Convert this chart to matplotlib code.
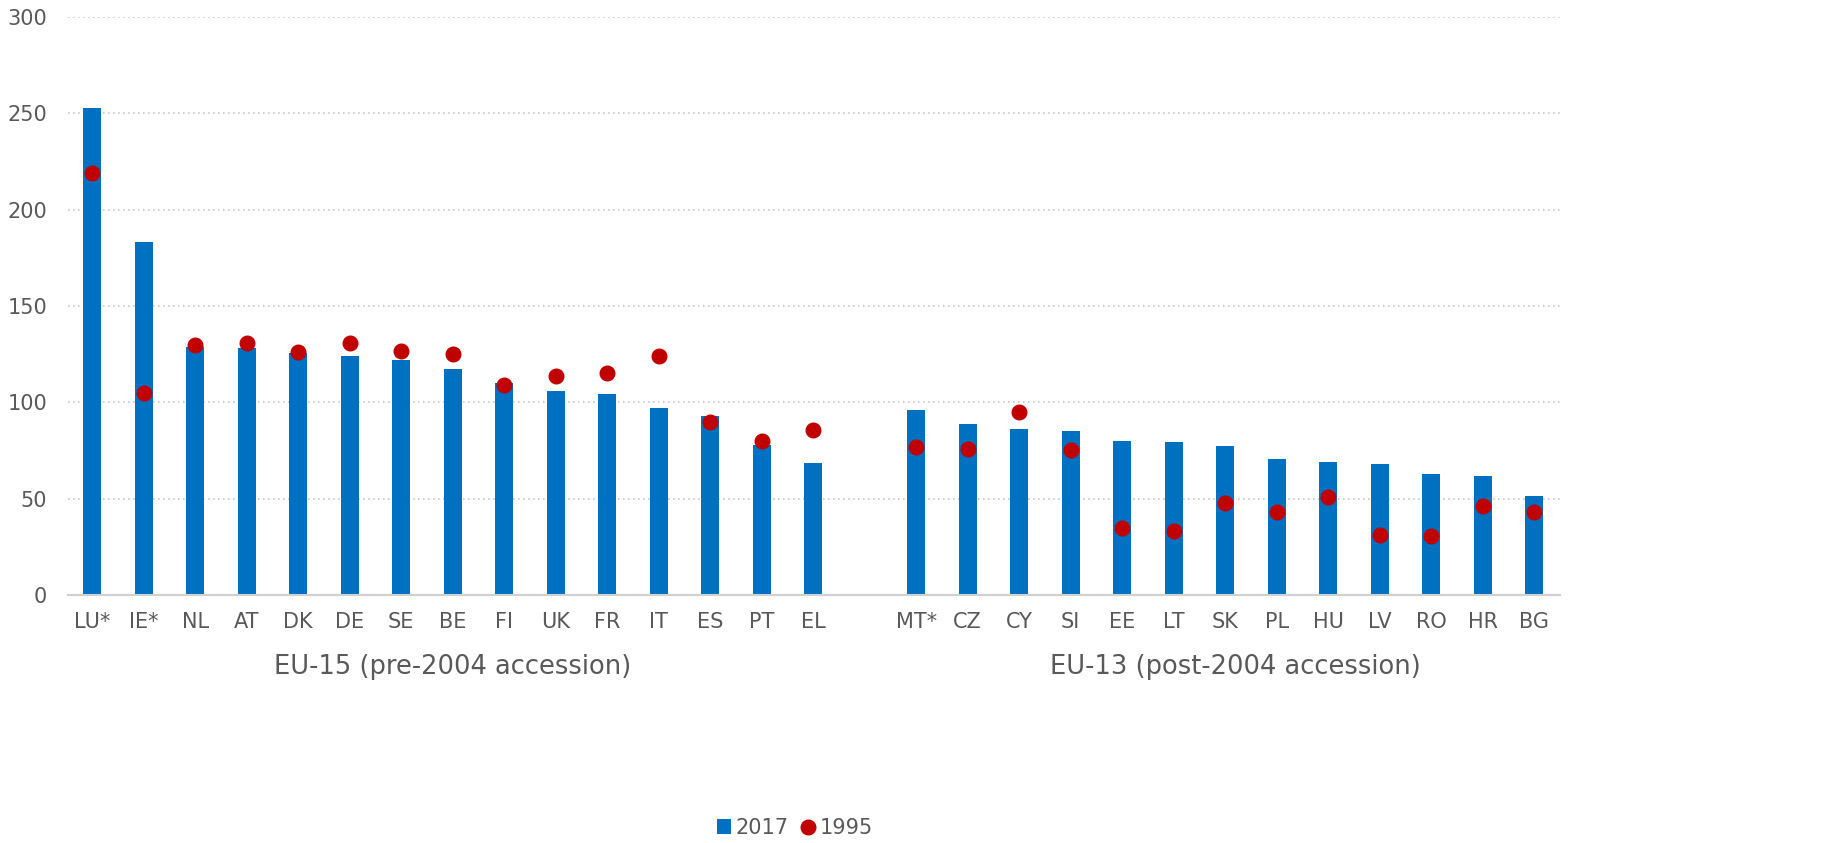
import matplotlib
matplotlib.use("Agg")
import matplotlib.pyplot as plt
import numpy as np

eu15 = ["LU*", "IE*", "NL", "AT", "DK", "DE", "SE", "BE", "FI", "UK", "FR", "IT", "ES", "PT", "EL"]
eu13 = ["MT*", "CZ", "CY", "SI", "EE", "LT", "SK", "PL", "HU", "LV", "RO", "HR", "BG"]
v2017_15 = [253, 183, 128.5, 128, 125.5, 124, 122, 117.5, 110, 106, 104.5, 97, 93, 78, 68.5]
v1995_15 = [219, 105, 130, 131, 126, 131, 126.5, 125, 109, 113.5, 115, 124, 90, 80, 85.5]
v2017_13 = [96, 89, 86, 85, 80, 79.5, 77.5, 70.5, 69, 68, 63, 62, 51.5]
v1995_13 = [77, 76, 95, 75.5, 35, 33, 48, 43, 51, 31, 30.5, 46, 43]
group_labels = ["EU-15 (pre-2004 accession)", "EU-13 (post-2004 accession)"]
series_names = ["2017", "1995"]

blue = "#0070C0"
red = "#C00000"
txt = "#595959"

plt.rcParams['font.family'] = ['DejaVu Sans']

fig = plt.figure(figsize=(18.24, 8.43), dpi=100)
ax = fig.add_axes([68/1824, 1-595/843, (1560-68)/1824, (595-17)/843])

x15 = np.arange(len(eu15))
x13 = np.arange(len(eu13)) + len(eu15) + 1
xs = np.concatenate([x15, x13])
labels = eu15 + eu13
v17 = v2017_15 + v2017_13
v95 = v1995_15 + v1995_13

bars = ax.bar(xs, v17, width=0.35, color=blue, label=series_names[0], zorder=2)
dots, = ax.plot(xs, v95, 'o', color=red, markersize=10.5, label=series_names[1], zorder=3)

ax.set_xlim(-0.47, xs[-1] + 0.5)
ax.set_ylim(0, 300)
ax.set_yticks(np.arange(0, 301, 50))
ax.yaxis.grid(True, linestyle=(0, (1, 2)), color="#c8c8c8", linewidth=1.2, zorder=0)
ax.set_axisbelow(True)
for s in ["top", "right", "left"]:
    ax.spines[s].set_visible(False)
ax.spines["bottom"].set_color("#d0d0d0")
ax.spines["bottom"].set_linewidth(1.5)
ax.tick_params(axis="y", length=0, labelsize=15, labelcolor=txt, pad=15)
ax.tick_params(axis="x", length=0, labelsize=15, labelcolor=txt, pad=12)
ax.set_xticks(xs)
ax.set_xticklabels(labels)

ax.text(x15.mean(), -0.125, group_labels[0], transform=ax.get_xaxis_transform(),
        ha="center", va="center", fontsize=18.5, color=txt)
ax.text(x13.mean() + 0.2, -0.125, group_labels[1], transform=ax.get_xaxis_transform(),
        ha="center", va="center", fontsize=18.5, color=txt)

leg = fig.legend(handles=[bars, dots], labels=series_names, loc="center",
                 bbox_to_anchor=(795/1824, 1-828/843), ncol=2, frameon=False,
                 fontsize=15, handlelength=0.7, handletextpad=0.2, columnspacing=0.6,
                 markerscale=1.0)
for t in leg.get_texts():
    t.set_color(txt)

fig.savefig("out.png", dpi=100)
